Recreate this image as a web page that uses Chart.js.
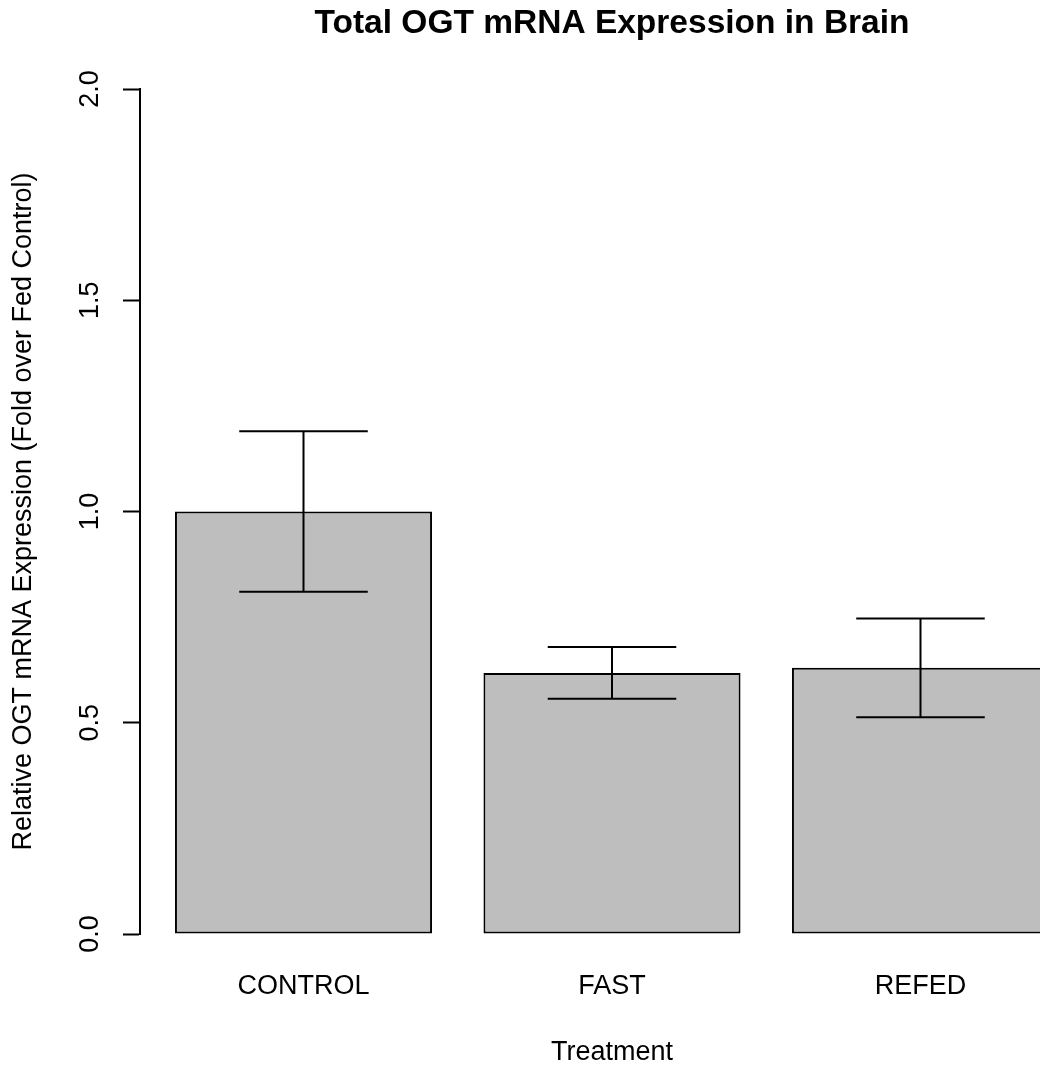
<!DOCTYPE html>
<html>
<head>
<meta charset="utf-8">
<title>Total OGT mRNA Expression in Brain</title>
<script src="https://cdn.jsdelivr.net/npm/chart.js@4.4.1/dist/chart.umd.min.js"></script>
<style>
    html, body { margin: 0; padding: 0; background: #fff; overflow: hidden; }
    #wrap { width: 1040px; height: 1069px; overflow: hidden; }
</style>
</head>
<body>
<div id="wrap">
    <canvas id="GraficoOGT" width="1224" height="1069"></canvas>
</div>
<script>
// dados do grafico
var categorias = ['CONTROL', 'FAST', 'REFED'];
var valores = [1.0, 0.618, 0.630];
var erros = [0.19, 0.061, 0.117];
var ticksY = [0, 0.5, 1.0, 1.5, 2.0];

var fonte = '"Liberation Sans", Arial, Helvetica, sans-serif';

// barplot do R: barras de largura 1 com espaco 0.2
var centros = categorias.map(function (c, i) { return 0.7 + 1.2 * i; });

// barras de erro
var pluginErro = {
    id: 'barrasErro',
    afterDatasetsDraw: function (chart) {
        var ctx = chart.ctx;
        var sx = chart.scales.x;
        var sy = chart.scales.y;
        var meta = chart.getDatasetMeta(0);
        ctx.save();
        ctx.strokeStyle = '#000';
        ctx.lineWidth = 2;
        valores.forEach(function (v, i) {
            var x = sx.getPixelForValue(centros[i]);
            var yTop = sy.getPixelForValue(v + erros[i]);
            var yBot = sy.getPixelForValue(v - erros[i]);
            var meia = meta.data[i].width / 4;
            ctx.beginPath();
            ctx.moveTo(x, yTop); ctx.lineTo(x, yBot);
            ctx.moveTo(x - meia, yTop); ctx.lineTo(x + meia, yTop);
            ctx.moveTo(x - meia, yBot); ctx.lineTo(x + meia, yBot);
            ctx.stroke();
        });
        ctx.restore();
    }
};

var ctx = document.getElementById('GraficoOGT').getContext('2d');

var grafico = new Chart(ctx, {
    type: 'bar',
    data: {
        datasets: [
            {
                label: 'OGT',
                backgroundColor: '#bebebe',
                borderColor: '#000',
                borderWidth: 2,
                borderSkipped: false,
                barPercentage: 1 / 1.2,
                categoryPercentage: 1,
                data: categorias.map(function (c, i) { return { x: centros[i], y: valores[i] }; })
            }
        ]
    },
    options: {
        responsive: false,
        animation: false,
        layout: { padding: { left: 0, right: 140, top: 0, bottom: 0 } },
        plugins: {
            legend: { display: false },
            tooltip: { enabled: false },
            title: {
                display: true,
                fullSize: false,
                text: 'Total OGT mRNA Expression in Brain',
                color: '#000',
                font: { family: fonte, size: 33.5, weight: 'bold' },
                padding: { top: 4, bottom: 44.8 }
            }
        },
        scales: {
            x: {
                type: 'linear',
                offset: false,
                min: 0.064,
                max: 3.736,
                grid: { display: false, drawTicks: false, offset: false },
                border: { display: false },
                afterBuildTicks: function (scale) {
                    scale.ticks = centros.map(function (c) { return { value: c }; });
                },
                afterFit: function (scale) { scale.height = 135; },
                ticks: {
                    autoSkip: false,
                    maxRotation: 0,
                    padding: 36,
                    color: '#000',
                    font: { family: fonte, size: 27 },
                    callback: function (value, index) { return categorias[index]; }
                },
                title: {
                    display: true,
                    text: 'Treatment',
                    color: '#000',
                    font: { family: fonte, size: 27 },
                    padding: { top: 0, bottom: 0 }
                }
            },
            y: {
                min: 0,
                max: 2,
                afterBuildTicks: function (scale) {
                    scale.ticks = ticksY.map(function (t) { return { value: t }; });
                },
                afterFit: function (scale) { scale.width = 140; },
                grid: {
                    display: true,
                    drawOnChartArea: false,
                    drawTicks: true,
                    tickLength: 17,
                    tickWidth: 2,
                    tickColor: '#000'
                },
                border: { display: true, color: '#000', width: 2 },
                ticks: {
                    minRotation: 90,
                    maxRotation: 90,
                    crossAlign: 'center',
                    padding: 14,
                    color: '#000',
                    font: { family: fonte, size: 27 },
                    callback: function (value) { return value.toFixed(1); }
                },
                title: {
                    display: true,
                    text: 'Relative OGT mRNA Expression (Fold over Fed Control)',
                    color: '#000',
                    font: { family: fonte, size: 27 },
                    padding: { top: 7, bottom: 0 }
                }
            }
        }
    },
    plugins: [pluginErro]
});
</script>
</body>
</html>
